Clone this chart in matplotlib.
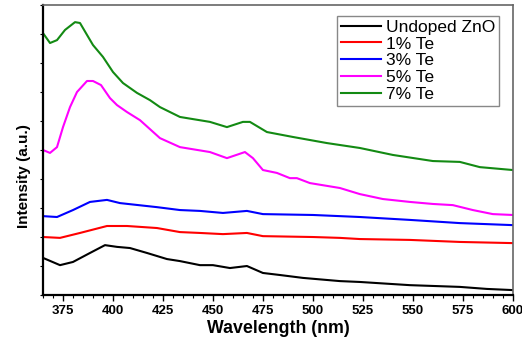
import matplotlib
matplotlib.use('Agg')
import matplotlib.pyplot as plt
from matplotlib.ticker import MultipleLocator

plt.rcParams['font.family'] = ['Liberation Sans', 'DejaVu Sans']

# wavelength (nm) / intensity (a.u.)
wl_undoped = [365, 373.5, 380, 388.5, 396, 402, 408.5, 417, 427, 433.5, 443.5, 450, 458.5, 467, 475, 483.5, 495, 513.5, 523.5, 548.5, 573.5, 587, 600]
i_undoped = [1.28, 1.03, 1.14, 1.45, 1.72, 1.66, 1.62, 1.45, 1.24, 1.17, 1.03, 1.03, 0.93, 1.00, 0.76, 0.69, 0.59, 0.48, 0.45, 0.34, 0.28, 0.21, 0.17]

wl_1 = [365, 373.5, 383.5, 397, 407, 422, 433.5, 443.5, 455, 467, 475, 500, 513.5, 523.5, 548.5, 573.5, 600]
i_1 = [2.00, 1.97, 2.14, 2.38, 2.38, 2.31, 2.17, 2.14, 2.10, 2.14, 2.03, 2.00, 1.97, 1.93, 1.90, 1.83, 1.79]

wl_3 = [365, 372, 380, 388.5, 397, 403.5, 422, 433.5, 443.5, 455, 467, 475, 500, 513.5, 523.5, 548.5, 573.5, 600]
i_3 = [2.72, 2.69, 2.93, 3.21, 3.28, 3.17, 3.03, 2.93, 2.90, 2.83, 2.90, 2.79, 2.76, 2.72, 2.69, 2.59, 2.48, 2.41]

wl_5 = [365, 368.5, 372, 375, 378.5, 382, 387, 390, 394, 398.5, 402, 407, 413.5, 423.5, 433.5, 448.5, 457, 466, 470, 475, 482, 488.5, 492, 498.5, 513.5, 523.5, 535, 548.5, 560, 570, 580, 590, 600]
i_5 = [5.00, 4.90, 5.10, 5.79, 6.48, 7.00, 7.38, 7.38, 7.24, 6.79, 6.55, 6.31, 6.03, 5.41, 5.10, 4.93, 4.72, 4.93, 4.72, 4.31, 4.21, 4.03, 4.03, 3.86, 3.69, 3.48, 3.31, 3.21, 3.14, 3.10, 2.93, 2.79, 2.76]

wl_7 = [365, 368.5, 372, 376, 381, 383.5, 387, 390, 395, 400, 405, 412, 418.5, 423.5, 433.5, 448.5, 457, 465, 468.5, 477, 490, 507, 523.5, 540, 560, 573.5, 583.5, 600]
i_7 = [9.03, 8.69, 8.79, 9.14, 9.41, 9.38, 8.97, 8.62, 8.21, 7.69, 7.31, 6.97, 6.72, 6.48, 6.14, 5.97, 5.79, 5.97, 5.97, 5.62, 5.45, 5.24, 5.07, 4.83, 4.62, 4.59, 4.41, 4.31]

series = [
    ('Undoped ZnO', wl_undoped, i_undoped, 'black'),
    ('1% Te', wl_1, i_1, '#ff0000'),
    ('3% Te', wl_3, i_3, '#0000ff'),
    ('5% Te', wl_5, i_5, '#ff00ff'),
    ('7% Te', wl_7, i_7, '#138a13'),
]

fig = plt.figure(figsize=(5.22, 3.44), dpi=100)
ax = fig.add_axes([0.0824, 0.1424, 0.900, 0.843])

for name, x, y, c in series:
    ax.plot(x, y, color=c, lw=1.5, label=name, solid_joinstyle='round')

ax.set_xlim(365, 600)
ax.set_ylim(0, 10)
ax.xaxis.set_major_locator(MultipleLocator(25))
ax.xaxis.set_minor_locator(MultipleLocator(5))
ax.yaxis.set_major_locator(MultipleLocator(1))
ax.set_yticklabels([])
ax.tick_params(axis='x', which='major', length=4, width=1, labelsize=9.5, pad=3)
ax.tick_params(axis='x', which='minor', length=2.5, width=0.8)
ax.tick_params(axis='y', which='major', length=2.5, width=0.8)
for lab in ax.get_xticklabels():
    lab.set_fontweight('bold')

ax.spines['left'].set_linewidth(1.6)
ax.spines['bottom'].set_linewidth(1.6)
ax.spines['top'].set_color('#666666')
ax.spines['right'].set_color('#666666')
ax.spines['top'].set_linewidth(1.2)
ax.spines['right'].set_linewidth(1.2)

ax.set_xlabel('Wavelength (nm)', fontsize=12.8, fontweight='bold', labelpad=2)
ax.set_ylabel('Intensity (a.u.)', fontsize=11, fontweight='bold')
ax.yaxis.set_label_coords(-0.026, 0.41)

leg = ax.legend(loc='upper right', bbox_to_anchor=(0.970, 0.962), fontsize=12.5,
                handlelength=2.3, handletextpad=0.3, labelspacing=0.1,
                borderpad=0.2, borderaxespad=0, fancybox=False, framealpha=1)
leg.get_frame().set_edgecolor('#888888')
leg.get_frame().set_linewidth(1.0)

fig.savefig('out.png', dpi=100)
